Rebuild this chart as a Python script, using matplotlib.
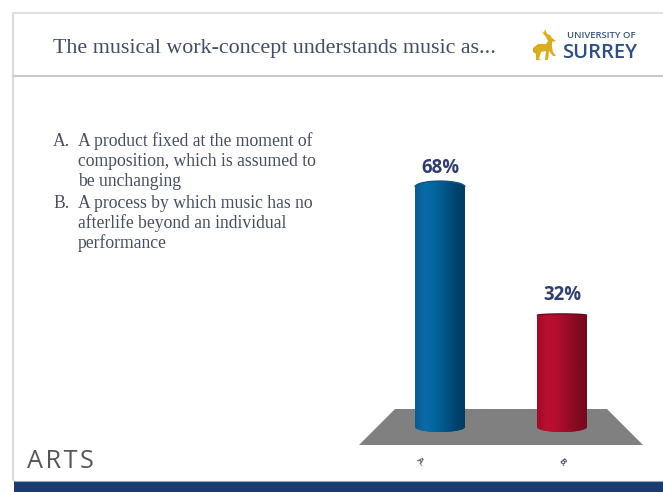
import numpy as np
import matplotlib
matplotlib.use("Agg")
import matplotlib.pyplot as plt
from matplotlib.patches import Polygon, Rectangle
from matplotlib.path import Path

# Poll results
categories = ["A.", "B."]
values = [68, 32]
value_labels = ["68%", "32%"]

title = "The musical work-concept understands music as..."
option_a = ["A product fixed at the moment of",
            "composition, which is assumed to",
            "be unchanging"]
option_b = ["A process by which music has no",
            "afterlife beyond an individual",
            "performance"]

W, H = 663, 492
fig = plt.figure(figsize=(W / 100, H / 100), dpi=100, facecolor="white")

# Slide furniture is laid out on a pixel-sized canvas
slide = fig.add_axes([0, 0, 1, 1])
slide.set_xlim(0, W)
slide.set_ylim(H, 0)
slide.axis("off")

slide.plot([13, 13], [12, 481], color="#dcdcdc", lw=1.6, solid_capstyle="butt")
slide.plot([13, W], [12.5, 12.5], color="#dedede", lw=1.4, solid_capstyle="butt")
slide.plot([13, W], [75.5, 75.5], color="#c9cbce", lw=1.6, solid_capstyle="butt")
slide.add_patch(Rectangle((14, 481), W - 14, 11, facecolor="#1b3a6f", edgecolor="none"))
slide.plot([14, W], [480.5, 480.5], color="#7fb4c4", lw=0.8, solid_capstyle="butt")

slide.text(53, 49, title, family="Liberation Serif", fontsize=15.8, color="#434d66",
           va="center", ha="left")

SERIF = "Liberation Serif"
TEXT = "#474e60"
BODY = 12.7
slide.text(53, 141, "A.", family=SERIF, fontsize=BODY, color=TEXT, va="center")
for i, line in enumerate(option_a):
    slide.text(78, 141 + i * 20, line, family=SERIF, fontsize=BODY, color=TEXT, va="center")
slide.text(53, 203, "B.", family=SERIF, fontsize=BODY, color=TEXT, va="center")
for i, line in enumerate(option_b):
    slide.text(78, 203 + i * 20, line, family=SERIF, fontsize=BODY, color=TEXT, va="center")

slide.text(27, 461, "A R T S".replace(" ", "\u200a"), family="Open Sans", fontsize=18.2,
           color="#565656", va="center", ha="left")

# University crest and wordmark
GOLD = "#d8ad1f"
stag = [(533, 48), (538, 44), (546, 44), (548, 41), (546, 37), (541, 31), (544, 33),
        (545, 29), (547, 34), (550, 35), (552, 38), (556, 41), (552, 42), (552, 47),
        (553, 52), (556, 56), (553, 56), (549, 51), (548, 60), (545, 60), (546, 51),
        (541, 52), (539, 59), (542, 60), (536, 60), (536, 54), (533, 52)]
slide.add_patch(Polygon(stag, closed=True, facecolor=GOLD, edgecolor="none"))
slide.text(601, 36, "UNIVERSITY OF", family="Open Sans", fontsize=6.8, fontweight="semibold",
           color="#37557f", ha="center", va="center")
slide.text(600, 53, "SURREY", family="Open Sans", fontsize=14.6, fontweight="semibold",
           color="#2f4f80", ha="center", va="center")

# Floor of the 3-D chart
slide.add_patch(Polygon([(395, 409), (607, 409), (643, 445), (359, 445)], closed=True,
                        facecolor="#808080", edgecolor="none"))

# Chart axes: 0% sits on the cylinder bases, and bars are 122 px apart
px_per_pct = 3.69
base_px = 432
top_px = 140
left_px = 340
x0_px, x_step = 440, 122
chart = fig.add_axes([left_px / W, (H - base_px) / H, (W - left_px) / W, (base_px - top_px) / H])
chart.patch.set_alpha(0)
chart.axis("off")
xlim = ((left_px - x0_px) / x_step, (W - x0_px) / x_step)
ylim = (0, (base_px - top_px) / px_per_pct)

bar_width = 50 / x_step
positions = np.arange(len(values))
bars = chart.bar(positions, values, width=bar_width, color=["#005c94", "#a00c2a"])

shades = [["#0a5a8e", "#0a6ba8", "#04659f", "#005688", "#004470", "#003c62"],
          ["#9c0d28", "#bb0f30", "#b20e2d", "#9c0c29", "#840a22", "#740a1e"]]
cap_heights = [6 / px_per_pct, 1.5 / px_per_pct]
rims = ["#0b5588", "#6a0a20"]
label_gaps = [13.5 / px_per_pct, 18.5 / px_per_pct]
base_ry = 5 / px_per_pct

for bar, shade, cap, rim, gap, text in zip(bars, shades, cap_heights, rims, label_gaps, value_labels):
    x, w, h = bar.get_x(), bar.get_width(), bar.get_height()
    t = np.linspace(0, np.pi, 40)
    cx, rx = x + w / 2, w / 2
    upper = np.column_stack([cx + rx * np.cos(t), h - cap + cap * np.sin(t)])
    lower = np.column_stack([cx - rx * np.cos(t), base_ry - base_ry * np.sin(t)])
    outline = Path(np.vstack([upper, lower, upper[:1]]))

    # Horizontal colour ramp gives the cylinder its roundness
    ramp = np.array([matplotlib.colors.to_rgb(c) for c in shade])
    u = np.linspace(0, 1, 200)
    stops = np.linspace(0, 1, len(shade))
    grad = np.stack([np.interp(u, stops, ramp[:, k]) for k in range(3)], axis=-1)[None, :, :]
    bar.set_clip_path(outline, chart.transData)
    img = chart.imshow(grad, extent=[x, x + w, 0, h], aspect="auto", zorder=3,
                       interpolation="bilinear")
    img.set_clip_path(outline, chart.transData)
    chart.plot(upper[:, 0], upper[:, 1], color=rim, lw=1.0, zorder=4, solid_capstyle="butt")

    chart.text(cx, h + gap, text, family="Open Sans", fontsize=13.4, fontweight="bold",
               color="#2f3f72", ha="center", va="center")

chart.set_xlim(xlim)
chart.set_ylim(ylim)

# Category labels sit below the floor, tilted with its perspective
for label, px in zip(categories, (421, 563)):
    slide.text(px, 462, label, family="Open Sans", fontsize=6, fontweight="bold", rotation=-50,
               color="#50566e", ha="center", va="center")

fig.savefig("out.png", dpi=100, facecolor="white")
